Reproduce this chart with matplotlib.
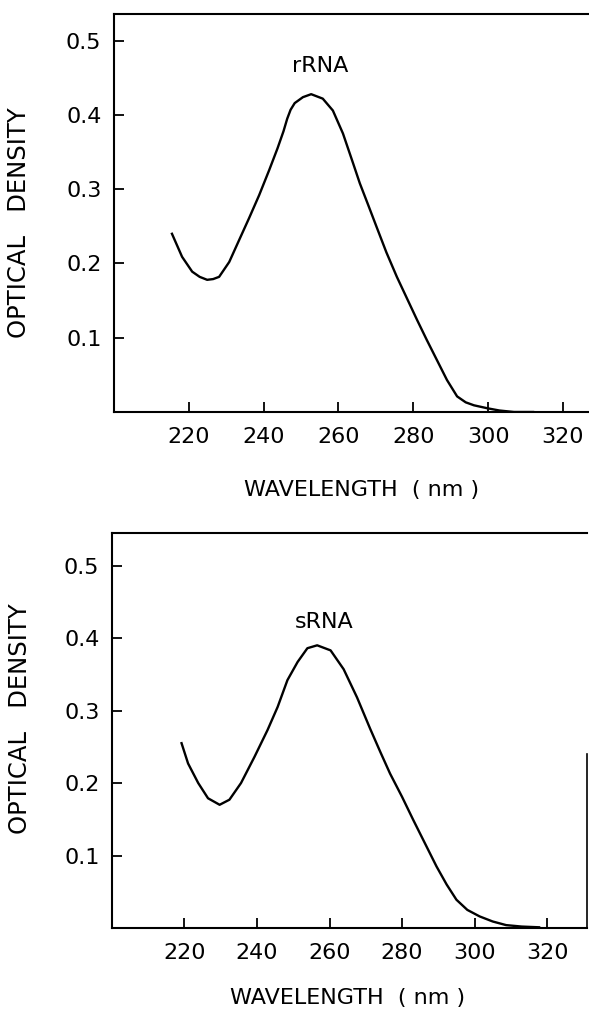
import matplotlib
matplotlib.use('Agg')
import matplotlib.pyplot as plt

# rRNA absorption spectrum (wavelength nm, optical density)
r_nm = [215.5, 218.2, 220.9, 222.9, 224.9, 226.5, 228.1, 230.8, 233.4, 236.1,
        238.8, 241.5, 243.7, 245.3, 246.3, 247.2, 248.3, 250.5, 252.7, 255.8,
        258.5, 261.2, 263.9, 265.7, 268.0, 270.2, 272.8, 275.6, 278.3, 281.0,
        283.6, 286.3, 289.0, 291.7, 294.0, 296.2, 299.8, 303.0, 306.9, 312.0]
r_od = [0.240, 0.209, 0.189, 0.182, 0.178, 0.179, 0.182, 0.202, 0.231, 0.261,
        0.292, 0.326, 0.355, 0.378, 0.395, 0.407, 0.416, 0.424, 0.428, 0.422,
        0.406, 0.375, 0.335, 0.308, 0.278, 0.249, 0.215, 0.182, 0.153, 0.124,
        0.097, 0.070, 0.043, 0.021, 0.013, 0.009, 0.005, 0.002, 0.0, 0.0]

# sRNA absorption spectrum
s_nm = [219.2, 221.0, 223.8, 226.5, 229.7, 232.4, 235.6, 239.3, 242.9, 245.7,
        248.4, 251.2, 253.9, 256.6, 260.3, 263.9, 267.6, 271.2, 274.0, 276.7,
        280.0, 283.1, 286.3, 289.5, 292.3, 295.0, 298.0, 301.4, 305.0, 308.7,
        313.0, 317.8]
s_od = [0.255, 0.227, 0.200, 0.179, 0.170, 0.177, 0.200, 0.236, 0.273, 0.305,
        0.342, 0.367, 0.386, 0.390, 0.383, 0.357, 0.318, 0.275, 0.243, 0.213,
        0.181, 0.149, 0.117, 0.085, 0.060, 0.039, 0.025, 0.016, 0.009, 0.004,
        0.002, 0.001]

x_ticks = [220, 240, 260, 280, 300, 320]
y_ticks = [0.1, 0.2, 0.3, 0.4, 0.5]
y_ticklabels = ['0.1', '0.2', '0.3', '0.4', '0.5']

plt.rcParams['font.family'] = ['DejaVu Sans']

fig = plt.figure(figsize=(5.89, 10.14), dpi=100)
ax1 = fig.add_axes([0.1935, 0.5937, 0.81, 0.3925])
ax2 = fig.add_axes([0.190, 0.0848, 0.8066, 0.3896])


def style_axes(ax, xlim, ylim, name, name_pos, xlab_pos, ylab_pos):
    ax.set_xlim(*xlim)
    ax.set_ylim(*ylim)
    ax.set_xticks(x_ticks)
    ax.set_yticks(y_ticks)
    ax.set_yticklabels(y_ticklabels)
    ax.tick_params(direction='in', length=7, width=1.3, labelsize=16,
                   color='black', labelcolor='black')
    ax.tick_params(axis='x', pad=11)
    ax.tick_params(axis='y', pad=9)
    for side in ['left', 'bottom', 'top']:
        ax.spines[side].set_linewidth(1.5)
    ax.spines['right'].set_visible(False)
    ax.text(name_pos[0], name_pos[1], name, ha='center', va='center', fontsize=16)
    ax.set_xlabel('WAVELENGTH  ( nm )', fontsize=16)
    ax.set_ylabel('OPTICAL   DENSITY', fontsize=17.5)
    ax.xaxis.set_label_coords(*xlab_pos)
    ax.yaxis.set_label_coords(*ylab_pos)


ax1.plot(r_nm, r_od, color='black', lw=1.7)
style_axes(ax1, (200, 327.5), (0, 0.536), 'rRNA', (255, 0.466),
           (0.518, -0.172), (-0.173, 0.475))

ax2.plot(s_nm, s_od, color='black', lw=1.7)
style_axes(ax2, (200, 331), (0, 0.545), 'sRNA', (258.4, 0.422),
           (0.497, -0.152), (-0.168, 0.53))
ax2.spines['right'].set_visible(True)
ax2.spines['right'].set_linewidth(1.2)
ax2.spines['right'].set_bounds(0, 0.24)

fig.savefig('out.png', dpi=100)
